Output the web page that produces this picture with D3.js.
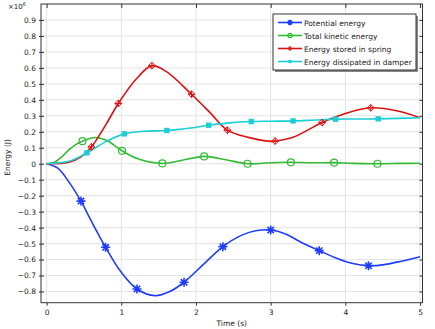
<!DOCTYPE html>
<html>
<head>
<meta charset="utf-8">
<script src="https://cdn.jsdelivr.net/npm/d3@7"></script>
<style>
  body { margin: 0; background: #fff; }
  text { font-family: "DejaVu Sans", sans-serif; fill: #222; }
</style>
</head>
<body>
<div id="chart"></div>
<script>
// curve samples [time, energy x1e6 J]
const potential = [[0,0],[0.15,-0.028],[0.3,-0.115],[0.46,-0.234],[0.6,-0.36],[0.79,-0.523],[1.0,-0.68],[1.21,-0.784],[1.45,-0.826],[1.65,-0.80],[1.84,-0.742],[2.1,-0.63],[2.36,-0.519],[2.6,-0.45],[2.8,-0.42],[3.0,-0.415],[3.2,-0.44],[3.4,-0.49],[3.65,-0.544],[3.9,-0.595],[4.1,-0.625],[4.31,-0.638],[4.5,-0.633],[4.75,-0.61],[5,-0.582]];
const kinetic = [[0,0],[0.1,0.008],[0.2,0.042],[0.3,0.088],[0.39,0.12],[0.48,0.141],[0.65,0.164],[0.8,0.147],[1.01,0.081],[1.21,0.033],[1.55,0.002],[1.8,0.02],[2.11,0.046],[2.4,0.025],[2.69,0.0],[3.0,0.006],[3.27,0.009],[3.55,0.006],[3.85,0.007],[4.1,0.002],[4.43,0.0],[4.75,0.002],[5,0.003]];
const spring = [[0,0],[0.3,0.01],[0.45,0.04],[0.6,0.106],[0.8,0.25],[0.96,0.377],[1.2,0.53],[1.41,0.614],[1.6,0.578],[1.94,0.435],[2.2,0.314],[2.42,0.21],[2.7,0.165],[3.0,0.14],[3.06,0.142],[3.3,0.166],[3.69,0.258],[4.0,0.314],[4.34,0.35],[4.7,0.33],[5,0.288]];
const damper = [[0,0],[0.3,0.015],[0.54,0.068],[0.8,0.14],[1.04,0.187],[1.3,0.203],[1.61,0.208],[1.9,0.222],[2.17,0.241],[2.45,0.256],[2.74,0.264],[3.0,0.266],[3.3,0.268],[3.6,0.274],[3.87,0.279],[4.15,0.28],[4.44,0.281],[4.7,0.284],[5,0.288]];

// marker positions
const potentialMarks = [[0.46,-0.234],[0.79,-0.523],[1.21,-0.784],[1.84,-0.742],[2.36,-0.519],[3.0,-0.415],[3.65,-0.544],[4.31,-0.638]];
const kineticMarks = [[0.48,0.141],[1.01,0.081],[1.55,0.002],[2.11,0.046],[2.69,0.0],[3.27,0.009],[3.85,0.007],[4.43,0.0]];
const springMarks = [[0.6,0.106],[0.96,0.377],[1.41,0.614],[1.94,0.435],[2.42,0.21],[3.06,0.142],[3.69,0.258],[4.34,0.35]];
const damperMarks = [[0.54,0.068],[1.04,0.187],[1.61,0.208],[2.17,0.241],[2.74,0.264],[3.3,0.268],[3.87,0.279],[4.44,0.281]];

const seriesNames = ['Potential energy', 'Total kinetic energy', 'Energy stored in spring', 'Energy dissipated in damper'];
const xTicks = [0, 1, 2, 3, 4, 5];
const yTicks = [-0.8,-0.7,-0.6,-0.5,-0.4,-0.3,-0.2,-0.1,0,0.1,0.2,0.3,0.4,0.5,0.6,0.7,0.8,0.9];

const series = [
  { name: seriesNames[0], data: potential, marks: potentialMarks, color: '#1e3cff', marker: 'asterisk' },
  { name: seriesNames[1], data: kinetic, marks: kineticMarks, color: '#33bb33', marker: 'circle' },
  { name: seriesNames[2], data: spring, marks: springMarks, color: '#dd1111', marker: 'diamond' },
  { name: seriesNames[3], data: damper, marks: damperMarks, color: '#1ccfd6', marker: 'square' }
];

const W = 435, H = 329;
const margin = { top: 4, right: 12.5, bottom: 26.3, left: 41 };
const width = W - margin.left - margin.right;
const height = H - margin.top - margin.bottom;

const root = d3.select('#chart').append('svg')
  .attr('width', W).attr('height', H);
const svg = root.append('g')
  .attr('transform', `translate(${margin.left},${margin.top})`);

const x = d3.scaleLinear().domain([-0.075, 5.033]).range([0, width]);
const y = d3.scaleLinear().domain([-0.87, 1.0]).range([height, 0]);

// grid
svg.append('g').selectAll('line').data(xTicks).enter().append('line')
  .attr('x1', d => x(d)).attr('x2', d => x(d))
  .attr('y1', 0).attr('y2', height)
  .attr('stroke', '#e4e4e4').attr('stroke-width', 1);
svg.append('g').selectAll('line').data(yTicks).enter().append('line')
  .attr('x1', 0).attr('x2', width)
  .attr('y1', d => y(d)).attr('y2', d => y(d))
  .attr('stroke', '#e4e4e4').attr('stroke-width', 1);

// axes
const fmtY = d => d === 0 ? '0' : d3.format('.1f')(d);
const xAxis = svg.append('g')
  .attr('transform', `translate(0,${height})`)
  .call(d3.axisBottom(x).tickValues(xTicks).tickSize(3).tickPadding(4).tickFormat(d3.format('d')));
const yAxis = svg.append('g')
  .call(d3.axisLeft(y).tickValues(yTicks).tickSize(3).tickPadding(2).tickFormat(fmtY));
const xTop = svg.append('g')
  .call(d3.axisBottom(x).tickValues(xTicks).tickSize(4).tickFormat(''));
const yRight = svg.append('g')
  .attr('transform', `translate(${width},0)`)
  .call(d3.axisLeft(y).tickValues(yTicks).tickSize(3).tickFormat(''));

[xAxis, yAxis, xTop, yRight].forEach(g => {
  g.select('.domain').remove();
  g.selectAll('line').attr('stroke', '#333');
  g.selectAll('text').style('font-size', '7.5px').attr('fill', '#222');
});
yAxis.selectAll('.tick line').attr('x2', 3).attr('x1', -2);

// frame
svg.append('rect')
  .attr('width', width).attr('height', height)
  .attr('fill', 'none').attr('stroke', '#333').attr('stroke-width', 1);

// axis titles
svg.append('text')
  .attr('x', width / 2).attr('y', height + 23)
  .attr('text-anchor', 'middle')
  .style('font-size', '7.5px')
  .text('Time (s)');
svg.append('text')
  .attr('transform', `translate(${-31},${height / 2 + 4}) rotate(-90)`)
  .attr('text-anchor', 'middle')
  .style('font-size', '7.5px')
  .text('Energy (J)');
const mult = root.append('text').attr('x', 8).attr('y', 9).style('font-size', '7px');
mult.append('tspan').text('\u00d710');
mult.append('tspan').attr('dy', -3).style('font-size', '5px').text('6');

// markers
function drawMarker(g, type, color, cx, cy, k) {
  k = k || 1;
  if (type === 'asterisk') {
    const r = 4.5 * k;
    const p = d3.path();
    for (let i = 0; i < 4; i++) {
      const a = i * Math.PI / 4;
      p.moveTo(cx - r * Math.cos(a), cy - r * Math.sin(a));
      p.lineTo(cx + r * Math.cos(a), cy + r * Math.sin(a));
    }
    g.append('path').attr('d', p.toString()).attr('stroke', color).attr('stroke-width', 1.6).attr('fill', 'none');
  } else if (type === 'circle') {
    g.append('circle').attr('cx', cx).attr('cy', cy).attr('r', 3.5 * k)
      .attr('fill', 'none').attr('stroke', color).attr('stroke-width', 1.2);
  } else if (type === 'diamond') {
    const r = 3.4 * k;
    g.append('path')
      .attr('d', `M${cx},${cy - r}L${cx + r},${cy}L${cx},${cy + r}L${cx - r},${cy}Z M${cx - r},${cy}L${cx + r},${cy} M${cx},${cy - r}L${cx},${cy + r}`)
      .attr('fill', 'none').attr('stroke', color).attr('stroke-width', 1);
  } else {
    const h = 2.7 * k;
    g.append('rect').attr('x', cx - h).attr('y', cy - h).attr('width', 2 * h).attr('height', 2 * h)
      .attr('fill', color);
  }
}

const line = d3.line()
  .x(d => x(d[0]))
  .y(d => y(d[1]))
  .curve(d3.curveCatmullRom.alpha(0.5));

const plot = svg.append('g');
series.forEach(s => {
  plot.append('path')
    .datum(s.data)
    .attr('d', line)
    .attr('fill', 'none')
    .attr('stroke', s.color)
    .attr('stroke-width', 1.6);
});
series.forEach(s => {
  const g = plot.append('g');
  s.marks.forEach(m => drawMarker(g, s.marker, s.color, x(m[0]), y(m[1])));
});

// legend
const lx = 273 - margin.left, ly = 14 - margin.top, lw = 143, lh = 56;
svg.append('rect').attr('x', lx + 2).attr('y', ly + 2).attr('width', lw).attr('height', lh).attr('fill', '#888');
svg.append('rect').attr('x', lx).attr('y', ly).attr('width', lw).attr('height', lh)
  .attr('fill', '#fff').attr('stroke', '#333').attr('stroke-width', 1);
series.forEach((s, i) => {
  const yy = ly + 8.5 + i * 13;
  const g = svg.append('g');
  g.append('line').attr('x1', lx + 5).attr('x2', lx + 29).attr('y1', yy).attr('y2', yy)
    .attr('stroke', s.color).attr('stroke-width', 1.6);
  drawMarker(g, s.marker, s.color, lx + 17, yy, 0.6);
  g.append('text').attr('x', lx + 31).attr('y', yy + 3)
    .style('font-size', '7.5px').text(s.name);
});
</script>
</body>
</html>
